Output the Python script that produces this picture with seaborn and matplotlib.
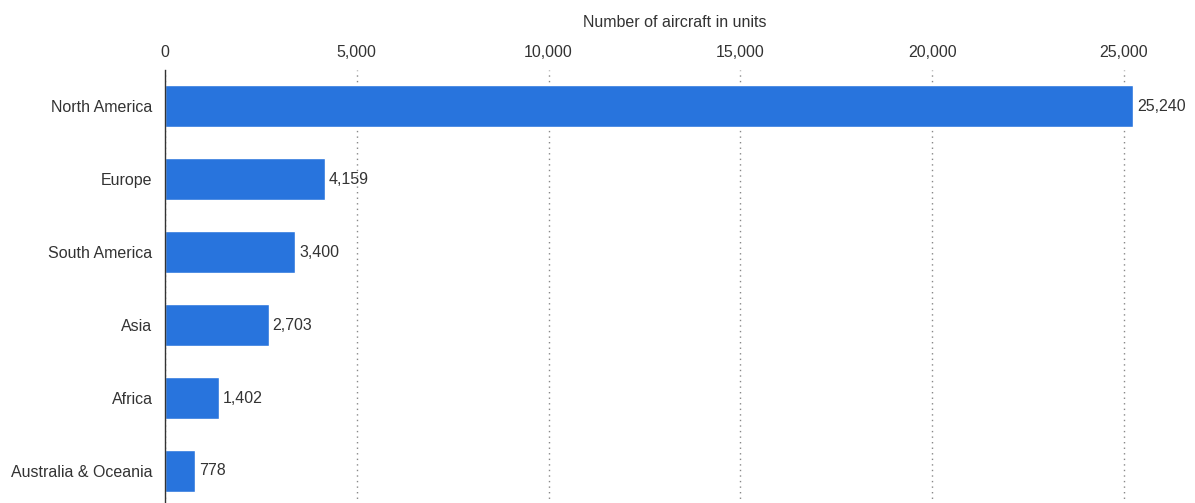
import matplotlib
matplotlib.use("Agg")
import matplotlib.pyplot as plt
import seaborn as sns
import pandas as pd

regions = ["North America", "Europe", "South America", "Asia", "Africa", "Australia & Oceania"]
aircraft = [25240, 4159, 3400, 2703, 1402, 778]
x_ticks = [0, 5000, 10000, 15000, 20000, 25000]
x_label = "Number of aircraft in units"

df = pd.DataFrame({"region": regions, "aircraft": aircraft})

sns.set_theme(style="white")
plt.rcParams["font.family"] = ["Liberation Sans", "DejaVu Sans"]
text_color = "#333333"
fs = 11.5

fig = plt.figure(figsize=(11.95, 5.03), dpi=100)
ax = fig.add_axes([165 / 1195, -4.4 / 503, 1020 / 1195, (503 - 70 + 4.4) / 503])

sns.barplot(data=df, x="aircraft", y="region", color="#2874DD", width=0.577,
            saturation=1, ax=ax, zorder=3)

ax.set_xlim(0, 25000 * 1020 / 959)
ax.set_ylim(len(regions) - 0.5, -0.5)

ax.xaxis.tick_top()
ax.xaxis.set_label_position("top")
ax.set_xticks(x_ticks)
ax.set_xticklabels([f"{t:,}" for t in x_ticks], fontsize=fs, color=text_color)
ax.set_xlabel(x_label, fontsize=fs, color=text_color, labelpad=13)
ax.set_ylabel("")
ax.tick_params(axis="x", length=0, pad=7.5)
ax.tick_params(axis="y", length=0, pad=9, labelsize=fs, labelcolor=text_color)

ax.grid(axis="x", linestyle=(0, (1, 3)), color="#888888", linewidth=1, zorder=0)
ax.grid(axis="y", visible=False)

for side in ["top", "right", "bottom"]:
    ax.spines[side].set_visible(False)
ax.spines["left"].set_color("#333333")
ax.spines["left"].set_linewidth(1)
ax.spines["left"].set_zorder(4)

for i, v in enumerate(aircraft):
    ax.text(v + 100, i, f"{v:,}", va="center", ha="left", fontsize=fs,
            color=text_color, zorder=5)

fig.savefig("out.png", dpi=100)
